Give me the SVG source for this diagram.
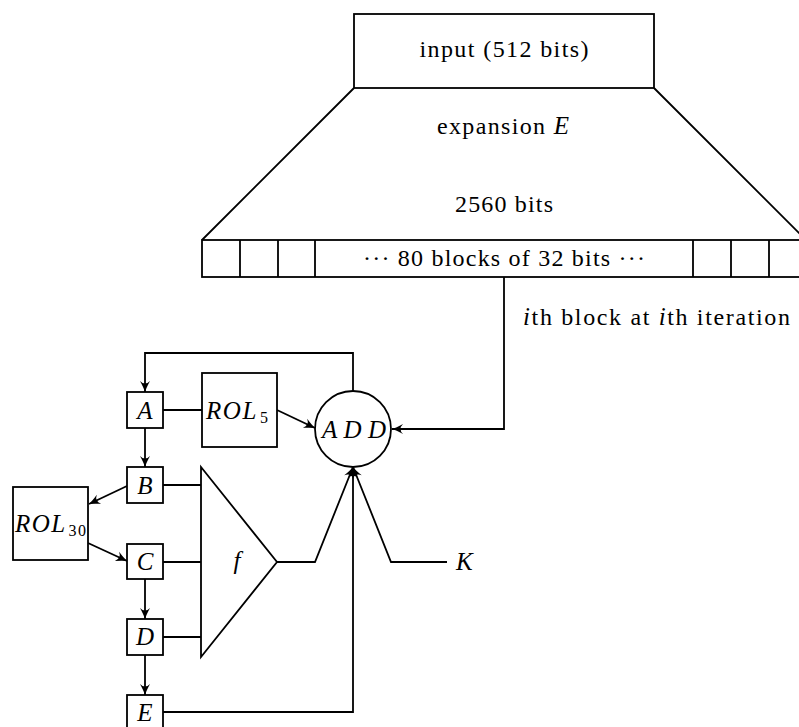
<svg xmlns="http://www.w3.org/2000/svg" width="799" height="727" viewBox="0 0 799 727">
<defs>
<style>
.ln{fill:none;stroke:#000;stroke-width:1.8}
.bx{fill:#fff;stroke:#000;stroke-width:1.8}
text{font-family:"Liberation Serif",serif;fill:#000}
.t{font-size:24px}
.i{font-style:italic;font-size:25px}
.m{text-anchor:middle}
.s{font-size:16px;font-style:normal}
.arr{marker-end:url(#ah)}
</style>
<marker id="ah" markerUnits="userSpaceOnUse" viewBox="-12 -7 14 14" markerWidth="14" markerHeight="14" refX="0" refY="0" orient="auto">
<path d="M-11,-5 Q-4,-1.2 0,0 Q-4,1.2 -11,5 Q-6,0 -11,-5 Z" fill="#000"/>
</marker>
</defs>
<rect width="799" height="727" fill="#fff"/>

<g id="input">
<rect class="bx" x="354" y="14" width="300" height="74"/>
<text class="t m" x="504" y="57" textLength="169" lengthAdjust="spacing">input (512 bits)</text>
</g>

<g id="expansion">
<path class="ln" d="M354,88 L202,240 M654,88 L806,240"/>
<text class="t m" x="503" y="134" textLength="132" lengthAdjust="spacing">expansion <tspan class="i">E</tspan></text>
<text class="t m" x="504" y="212" textLength="98" lengthAdjust="spacing">2560 bits</text>
</g>

<g id="blocks">
<rect class="bx" x="202" y="240" width="610" height="37"/>
<path class="ln" d="M240,240 V277 M278,240 V277 M315,240 V277 M693,240 V277 M731,240 V277 M769,240 V277"/>
<text class="t m" x="504" y="266" textLength="282" lengthAdjust="spacing">··· 80 blocks of 32 bits ···</text>
</g>

<g id="ith-label">
<text class="t" x="523" y="325" textLength="267" lengthAdjust="spacing"><tspan class="i">i</tspan>th block at <tspan class="i">i</tspan>th iteration</text>
</g>

<g id="connectors">
<path class="ln arr" d="M504,277 V429 H392"/>
<path class="ln arr" d="M353,391 V353 H145 V392"/>
<path class="ln" d="M163,410 H202"/>
<path class="ln arr" d="M277,410 L315,428"/>
<path class="ln arr" d="M145,428 V467"/>
<path class="ln arr" d="M127,486 L89,504"/>
<path class="ln arr" d="M88,543 L127,561"/>
<path class="ln arr" d="M145,579 V619"/>
<path class="ln arr" d="M145,655 V695"/>
<path class="ln" d="M163,485 H201 M163,562 H201 M163,637 H201"/>
<path class="ln arr" d="M277,562 H315 L353,467"/>
<path class="ln arr" d="M447,562 H391 L353,467"/>
<path class="ln arr" d="M163,712 H353 V467"/>
</g>

<g id="A">
<rect class="bx" x="127" y="392" width="36" height="36"/>
<text class="i m" x="145" y="419">A</text>
</g>

<g id="ROL5">
<rect class="bx" x="202" y="373" width="75" height="74"/>
<text class="i" x="206" y="419" textLength="62" lengthAdjust="spacing">ROL<tspan class="s" dx="2" dy="4">5</tspan></text>
</g>

<g id="ADD">
<circle class="bx" cx="353" cy="429" r="38"/>
<text class="i m" x="354" y="438" textLength="64" lengthAdjust="spacing">ADD</text>
</g>

<g id="B">
<rect class="bx" x="127" y="467" width="36" height="36"/>
<text class="i m" x="145" y="494">B</text>
</g>

<g id="ROL30">
<rect class="bx" x="13" y="487" width="75" height="73"/>
<text class="i" x="15" y="532" textLength="71" lengthAdjust="spacing">ROL<tspan class="s" dx="2" dy="4">30</tspan></text>
</g>

<g id="C">
<rect class="bx" x="127" y="544" width="36" height="35"/>
<text class="i m" x="145" y="570">C</text>
</g>

<g id="D">
<rect class="bx" x="127" y="619" width="36" height="36"/>
<text class="i m" x="145" y="645">D</text>
</g>

<g id="E">
<rect class="bx" x="127" y="695" width="36" height="35"/>
<text class="i m" x="145" y="721">E</text>
</g>

<g id="f">
<path class="bx" d="M201,467 L277,562 L201,657 Z"/>
<text class="i m" x="237" y="569">f</text>
</g>

<g id="K">
<text class="i" x="456" y="570">K</text>
</g>
</svg>
